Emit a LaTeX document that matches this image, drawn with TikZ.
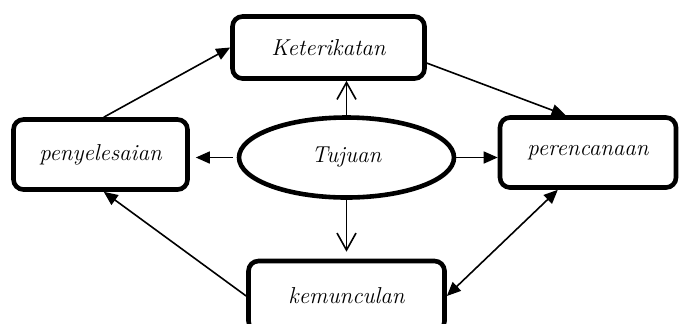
\documentclass[tikz,border=0pt]{standalone}
\usetikzlibrary{arrows.meta,shapes.geometric}
\begin{document}
\begin{tikzpicture}[x=0.5pt,y=-0.5pt,
  box/.style={draw, line width=2.3pt, rounded corners=5pt, font=\fontsize{11.5}{13}\selectfont\itshape},
  fwd/.style={-{Triangle[length=7pt,width=6pt]}, line width=0.8pt},
  both/.style={{Triangle[length=7pt,width=6pt]}-{Triangle[length=7pt,width=6pt]}, line width=0.8pt},
  barb/.style={-{Straight Barb[length=8.5pt,width=9.5pt]}, line width=0.8pt}]
\useasboundingbox (0,0) rectangle (683,323);
\node[box, minimum width=96pt, minimum height=31pt] (ket) at (328.5, 47.5) {Keterikatan};
\node[box, minimum width=87pt, minimum height=35pt] (pen) at (100.5, 154.5) {penyelesaian};
\node[box, minimum width=88pt, minimum height=35pt] (per) at (588, 152.5) {perencanaan};
\node[box, minimum width=98pt, minimum height=35pt] (kem) at (346.5, 296) {kemunculan};
\node[ellipse, draw, line width=2.3pt, minimum width=107.5pt, minimum height=40pt, font=\fontsize{11.5}{13}\selectfont\itshape] (tuj) at (346.5, 157.5) {Tujuan};

% edges
\path[fwd] (pen.85) edge (ket.west); % pen to ket
\path[fwd] (ket.-9) edge (per.121); % ket to per
\path[fwd] (kem.west) edge (pen.-85); % kem to pen
\path[both] (per.231) edge (kem.east); % per to kem
\path[barb] (tuj.north) edge (tuj.north |- ket.south); % tuj to ket
\path[barb, shorten >=3.5pt] (tuj.south) edge (tuj.south |- kem.north); % tuj to kem
\path[fwd, shorten <=2pt, shorten >=3pt] (tuj.west) edge (tuj.west -| pen.east); % tuj to pen
\path[fwd] (tuj.east) edge (tuj.east -| per.west); % tuj to per
\end{tikzpicture}
\end{document}
